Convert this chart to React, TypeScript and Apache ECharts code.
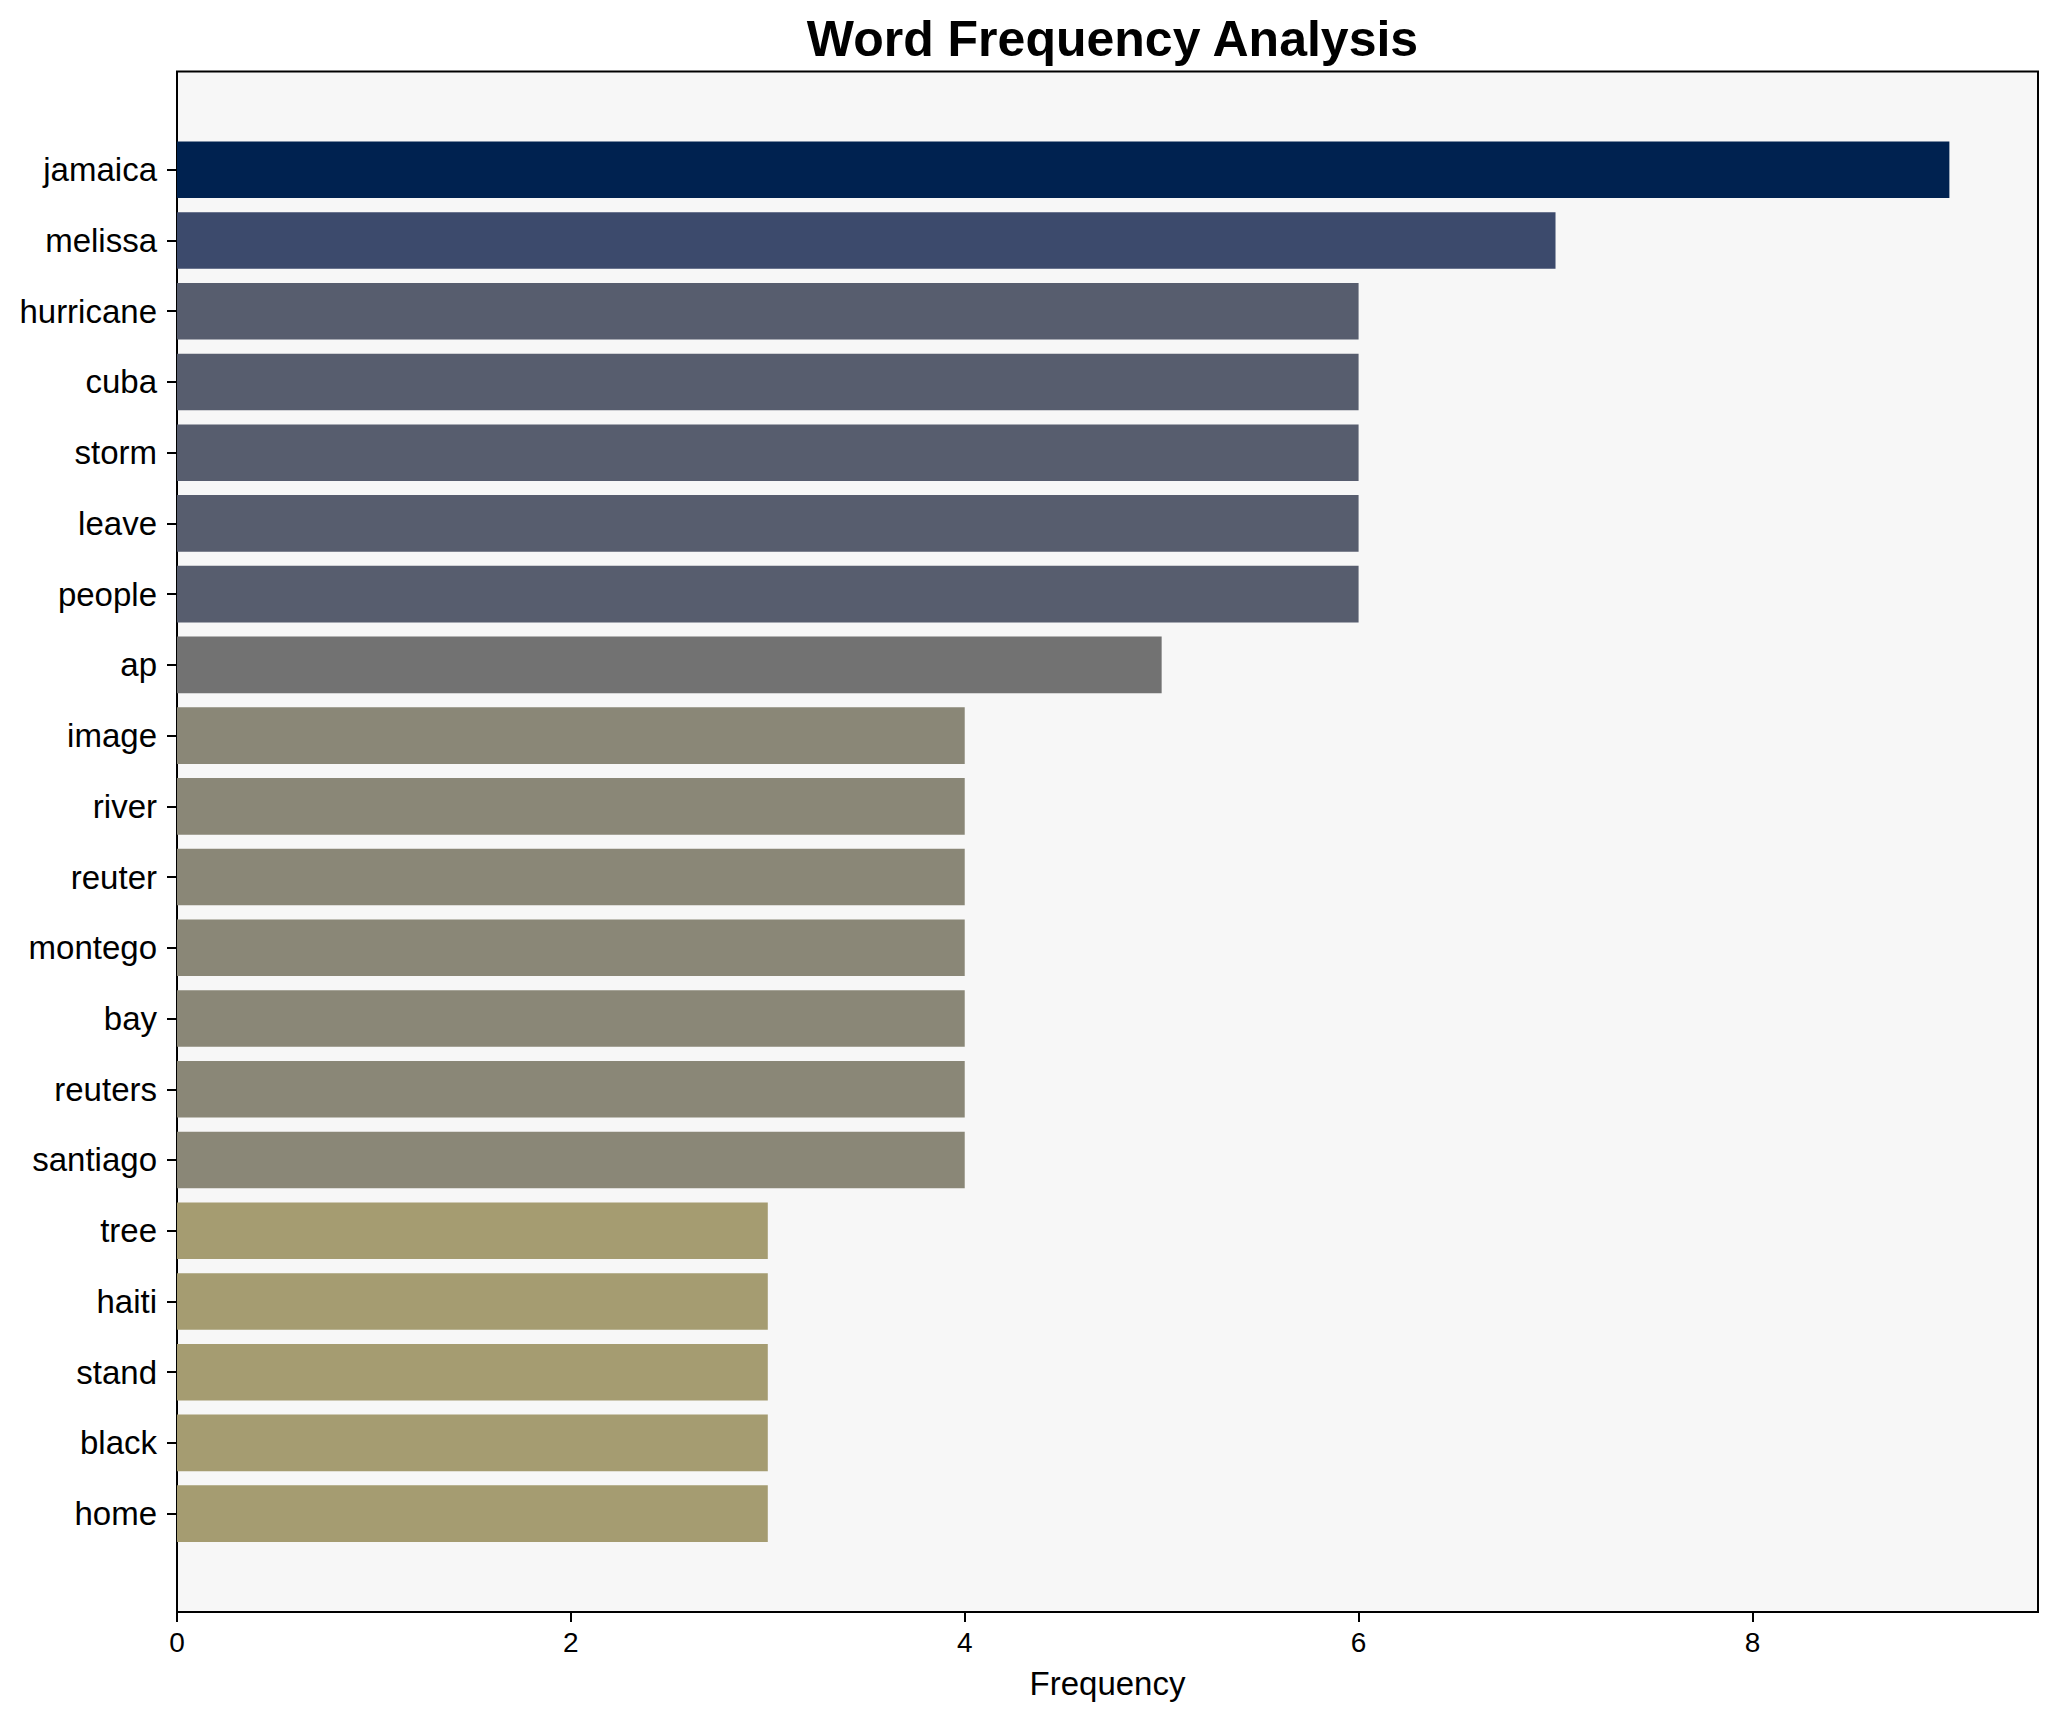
import React, { useEffect, useRef } from "react";
import * as echarts from "echarts";

const words = [
  "jamaica", "melissa", "hurricane", "cuba", "storm", "leave", "people", "ap",
  "image", "river", "reuter", "montego", "bay", "reuters", "santiago",
  "tree", "haiti", "stand", "black", "home",
];
const counts = [9, 7, 6, 6, 6, 6, 6, 5, 4, 4, 4, 4, 4, 4, 4, 3, 3, 3, 3, 3];
const xTicks = [0, 2, 4, 6, 8];
const colorByCount: Record<number, string> = {
  9: "#002250",
  7: "#3c4a6c",
  6: "#575d6e",
  5: "#727272",
  4: "#8a8777",
  3: "#a59c71",
};

const FONT = "'Liberation Sans', Arial, Helvetica, sans-serif";

export default function App() {
  const ref = useRef<HTMLDivElement>(null);
  useEffect(() => {
    if (!ref.current) return;
    const chart = echarts.init(ref.current, undefined, { renderer: "svg" });
    const xMax = 9.45;
    chart.setOption({
      animation: false,
      backgroundColor: "#ffffff",
      textStyle: { fontFamily: FONT },
      title: {
        text: "Word Frequency Analysis",
        left: 1107.5,
        textAlign: "center",
        top: 9,
        textStyle: { fontFamily: FONT, fontSize: 50, fontWeight: "bold", color: "#000" },
      },
      grid: [
        {
          left: 177, right: 20, top: 71.5, bottom: 110,
          show: true, backgroundColor: "#f7f7f7", borderColor: "#000", borderWidth: 2,
          containLabel: false,
        },
        { left: 177, right: 20, top: 134.4, bottom: 173, containLabel: false },
      ],
      xAxis: [
        {
          type: "value", gridIndex: 0, min: 0, max: xMax, interval: 2,
          axisLine: { show: true, onZero: false, lineStyle: { color: "#000", width: 2 } },
          axisTick: { show: true, length: 10, lineStyle: { color: "#000", width: 2 }, customValues: xTicks },
          axisLabel: { fontSize: 28, color: "#000", margin: 16, fontFamily: FONT, customValues: xTicks },
          splitLine: { show: false },
          name: "Frequency", nameLocation: "middle", nameGap: 55,
          nameTextStyle: { fontSize: 33, color: "#000", fontFamily: FONT },
        },
        { type: "value", gridIndex: 1, min: 0, max: xMax, show: false, splitLine: { show: false } },
      ],
      yAxis: [
        { type: "value", gridIndex: 0, min: 0, max: 1, show: false, splitLine: { show: false } },
        {
          type: "category", gridIndex: 1, data: words, inverse: true,
          axisLine: { show: false },
          axisTick: { show: true, alignWithLabel: true, length: 10, lineStyle: { color: "#000", width: 2 } },
          axisLabel: { fontSize: 33, color: "#000", margin: 20, fontFamily: FONT },
          splitLine: { show: false },
        },
      ],
      series: [
        {
          type: "bar", xAxisIndex: 1, yAxisIndex: 1, barCategoryGap: "20%",
          data: counts.map((v) => ({ value: v, itemStyle: { color: colorByCount[v] } })),
        },
      ],
    });
    return () => chart.dispose();
  }, []);
  return (
    <div
      ref={ref}
      style={{ position: "absolute", left: 0, top: 0, width: 2058, height: 1722 }}
    />
  );
}
